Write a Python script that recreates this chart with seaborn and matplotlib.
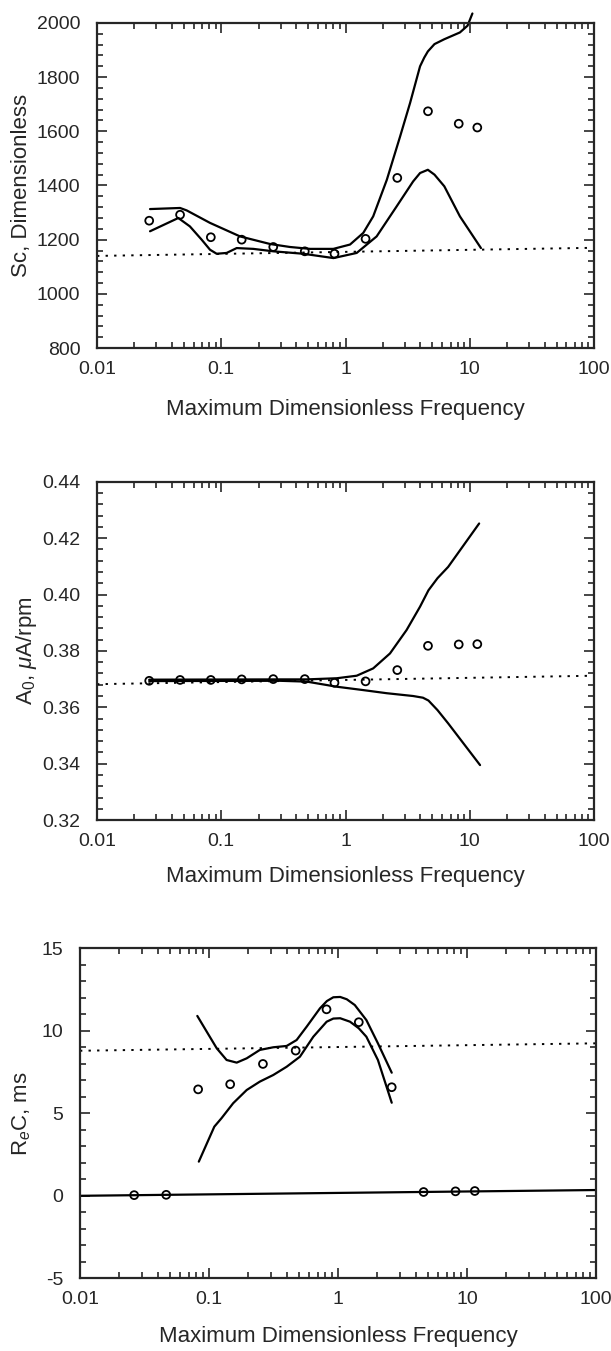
import numpy as np
import pandas as pd
import matplotlib
matplotlib.use("Agg")
import matplotlib.pyplot as plt
import matplotlib.ticker as ticker
import seaborn as sns

# shared frequencies of the measured points
freq = [0.0263, 0.0466, 0.0824, 0.146, 0.262, 0.470, 0.815, 1.45, 2.61, 4.61, 8.15, 11.5]

# Sc panel
sc_pts = [1270, 1292, 1209, 1200, 1173, 1157, 1148, 1203, 1428, 1674, 1628, 1614]
sc_up_f = [0.0267, 0.0466, 0.0527, 0.0811, 0.1416, 0.247, 0.357, 0.518, 0.798, 1.087,
           1.39, 1.67, 2.15, 2.75, 3.31, 3.98, 4.3, 4.6, 5.2, 6.24, 8.33, 9.6, 10.5]
sc_up = [1313, 1317, 1308, 1262, 1212, 1184, 1173, 1166, 1166, 1182,
         1225, 1286, 1421, 1581, 1705, 1840, 1872, 1895, 1922, 1940, 1965, 1990, 2035]
sc_lo_f = [0.0267, 0.0451, 0.0559, 0.0695, 0.0811, 0.0918, 0.1104, 0.1331, 0.181, 0.262,
           0.457, 0.80, 1.23, 1.78, 2.58, 3.5, 3.98, 4.6, 5.2, 6.24, 8.33, 12.3]
sc_lo = [1231, 1280, 1249, 1200, 1163, 1148, 1151, 1169, 1166, 1157,
         1148, 1132, 1151, 1212, 1323, 1415, 1446, 1458, 1440, 1397, 1286, 1169]
sc_ref = [1140, 1170]

# A0 panel
a0_pts = [0.3694, 0.3697, 0.3697, 0.3699, 0.3700, 0.3700, 0.3687, 0.3692, 0.3732, 0.3818, 0.3823, 0.3824]
a0_up_f = [0.0263, 0.297, 0.488, 0.849, 1.23, 1.67, 2.28, 3.10, 3.98, 4.65, 5.5, 6.7, 11.9]
a0_up = [0.3698, 0.3699, 0.3699, 0.3703, 0.3712, 0.3738, 0.3791, 0.3874, 0.3957, 0.4015, 0.4058, 0.4098, 0.4252]
a0_lo_f = [0.0263, 0.297, 0.488, 0.849, 1.39, 2.14, 3.5, 4.2, 4.65, 5.5, 6.7, 12.1]
a0_lo = [0.3693, 0.3694, 0.3691, 0.3673, 0.3661, 0.3650, 0.3640, 0.3634, 0.3624, 0.3590, 0.3543, 0.3395]
a0_ref = [0.3682, 0.3712]

# ReC panel
rec_pts = [0.04, 0.06, 6.45, 6.76, 7.99, 8.80, 11.30, 10.52, 6.58, 0.23, 0.27, 0.29]
rec_up_f = [0.0812, 0.096, 0.1148, 0.137, 0.164, 0.196, 0.248, 0.315, 0.40, 0.478,
            0.572, 0.725, 0.82, 0.92, 1.04, 1.17, 1.35, 1.66, 2.04, 2.61]
rec_up = [10.90, 9.95, 8.94, 8.23, 8.07, 8.33, 8.84, 9.00, 9.08, 9.44,
          10.25, 11.36, 11.80, 12.03, 12.05, 11.91, 11.56, 10.65, 9.24, 7.46]
rec_lo_f = [0.0834, 0.110, 0.125, 0.154, 0.196, 0.248, 0.315, 0.40, 0.507, 0.644,
            0.817, 0.92, 1.04, 1.24, 1.45, 1.66, 2.04, 2.61]
rec_lo = [2.07, 4.19, 4.70, 5.61, 6.41, 6.92, 7.32, 7.82, 8.43, 9.64,
          10.55, 10.74, 10.76, 10.55, 10.15, 9.64, 8.23, 5.64]
rec_zero = [0.0, 0.35]
rec_ref = [8.79, 9.24]

x_ends = [0.01, 100]
xlab = 'Maximum Dimensionless Frequency'

sns.set_style("ticks")
plt.rcParams['font.family'] = ['Liberation Sans', 'DejaVu Sans']
plt.rcParams['mathtext.fontset'] = 'custom'
plt.rcParams['mathtext.rm'] = 'Liberation Sans'
plt.rcParams['mathtext.it'] = 'Liberation Sans:italic'


def draw_panel(ax, pts, curves, ref, ylim, major, minor, ylabel, ylab_x, xlab_y, fmt, extra=None):
    for cf, cv, clip in curves:
        sns.lineplot(x=cf, y=cv, ax=ax, color='black', lw=1.6, sort=False,
                     estimator=None, clip_on=clip)
    sns.lineplot(x=x_ends, y=ref, ax=ax, color='black', lw=1.4, dashes=False,
                 linestyle=(0, (1.2, 3.2)))
    if extra is not None:
        sns.lineplot(x=x_ends, y=extra, ax=ax, color='black', lw=1.6)
    sns.scatterplot(x=freq, y=pts, ax=ax, marker='o', s=32, facecolor='none',
                    edgecolor='black', linewidth=1.3, zorder=5)
    ax.set_xscale('log')
    ax.set_xlim(0.01, 100)
    ax.set_ylim(*ylim)
    ax.xaxis.set_major_locator(ticker.LogLocator(base=10))
    ax.xaxis.set_minor_locator(ticker.LogLocator(base=10, subs=np.arange(2, 10)))
    ax.xaxis.set_major_formatter(ticker.FuncFormatter(lambda v, p: '%g' % v))
    ax.xaxis.set_minor_formatter(ticker.NullFormatter())
    ax.yaxis.set_major_locator(ticker.MultipleLocator(major))
    ax.yaxis.set_minor_locator(ticker.MultipleLocator(minor))
    ax.yaxis.set_major_formatter(ticker.FuncFormatter(lambda v, p: fmt % v))
    ax.tick_params(which='both', direction='in', top=True, right=True, width=1.2)
    ax.tick_params(which='major', length=7, labelsize=14)
    ax.tick_params(which='minor', length=4)
    ax.tick_params(axis='y', pad=12)
    ax.tick_params(axis='x', pad=9)
    for s in ax.spines.values():
        s.set_linewidth(1.6)
    ax.set_xlabel(xlab, fontsize=16)
    ax.set_ylabel(ylabel, fontsize=16)
    ax.xaxis.set_label_coords(0.5, xlab_y)
    ax.yaxis.set_label_coords(ylab_x, 0.5)


fig = plt.figure(figsize=(6.11, 13.51), dpi=100)

ax1 = fig.add_axes([0.1588, 0.7424, 0.8134, 0.2406])
draw_panel(ax1, sc_pts, [(sc_up_f, sc_up, False), (sc_lo_f, sc_lo, True)], sc_ref,
           (800, 2000), 200, 40, 'Sc, Dimensionless', -0.13, -0.157, '%d')

ax2 = fig.add_axes([0.1588, 0.3930, 0.8134, 0.2504])
draw_panel(ax2, a0_pts, [(a0_up_f, a0_up, True), (a0_lo_f, a0_lo, True)], a0_ref,
           (0.32, 0.44), 0.02, 0.004, r'A$_0$, $\mu$A/rpm', -0.117, -0.136, '%.2f')

ax3 = fig.add_axes([0.1309, 0.0538, 0.8445, 0.2443])
draw_panel(ax3, rec_pts, [(rec_up_f, rec_up, True), (rec_lo_f, rec_lo, True)], rec_ref,
           (-5, 15), 5, 1, r'R$_e$C, ms', -0.091, -0.145, '%d', extra=rec_zero)

fig.savefig('out.png', dpi=100)
